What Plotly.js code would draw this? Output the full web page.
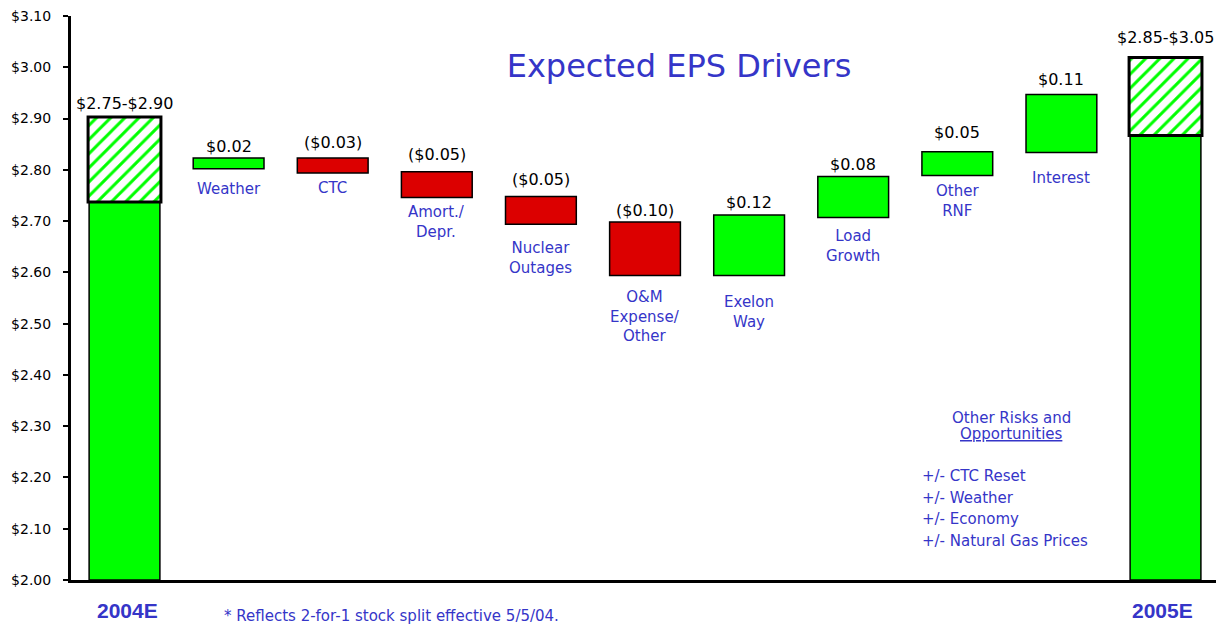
<!DOCTYPE html>
<html>
<head>
<meta charset="utf-8">
<script src="https://cdn.plot.ly/plotly-3.0.1.min.js"></script>
<style>html,body{margin:0;padding:0;background:#fff;}#chart{width:1216px;height:627px;}</style>
</head>
<body>
<div id="chart"></div>
<script>
// ---- data ----
const categories = ['2004E', 'Weather', 'CTC', 'Amort./<br>Depr.', 'Nuclear<br>Outages', 'O&M<br>Expense/<br>Other', 'Exelon<br>Way', 'Load<br>Growth', 'Other<br>RNF', 'Interest', '2005E'];
const barLow  = [2.00, 2.802, 2.794, 2.746, 2.694, 2.594, 2.594, 2.707, 2.789, 2.834, 2.00];
const barHigh = [2.737, 2.823, 2.823, 2.796, 2.748, 2.698, 2.712, 2.787, 2.835, 2.947, 2.867];
const direction = ['total', 'up', 'down', 'down', 'down', 'down', 'up', 'up', 'up', 'up', 'total'];
const valueLabels = ['$2.75-$2.90', '$0.02', '($0.03)', '($0.05)', '($0.05)', '($0.10)', '$0.12', '$0.08', '$0.05', '$0.11', '$2.85-$3.05'];
const rangeIdx  = [0, 10];
const rangeLow  = [2.737, 2.867];
const rangeHigh = [2.903, 3.019];
const riskTitle = ['Other Risks and', '<u>Opportunities</u>'];
const riskItems = ['+/- CTC Reset', '+/- Weather', '+/- Economy', '+/- Natural Gas Prices'];
const footnote = '* Reflects 2-for-1 stock split effective 5/5/04.';

// ---- styling / layout helpers ----
const GREEN = '#00ff00', RED = '#dc0000', BLUE = '#3535c8';
const FONT = 'DejaVu Sans, Verdana, sans-serif';
const valueGap = [14, 12, 16, 17, 17, 12, 12, 12, 19, 15, 20];      // px above bar top
const labelGap = [0, 20, 15, 14, 24, 22, 27, 18, 16, 26, 0];         // px below bar bottom (first line centre)

const idx = categories.map((_, i) => i);
const colors = direction.map(d => d === 'down' ? RED : GREEN);

const solid = {
  type: 'bar', x: idx, base: barLow, y: barHigh.map((h, i) => h - barLow[i]),
  width: 0.68, marker: {color: colors, line: {color: '#000', width: 1.5}},
  hoverinfo: 'skip', showlegend: false
};
const ranges = {
  type: 'bar', x: rangeIdx, base: rangeLow, y: rangeHigh.map((h, i) => h - rangeLow[i]),
  width: 0.70,
  marker: {color: GREEN, line: {color: '#000', width: 3},
    pattern: {shape: '/', fillmode: 'replace', fgcolor: GREEN, bgcolor: '#fff', size: 10, solidity: 0.3}},
  hoverinfo: 'skip', showlegend: false
};

const annotations = [];
// value labels above bars
idx.forEach(i => {
  const top = (i === 0) ? rangeHigh[0] : (i === 10 ? rangeHigh[1] : barHigh[i]);
  annotations.push({x: i, y: top, xref: 'x', yref: 'y', text: valueLabels[i], showarrow: false,
    yanchor: 'middle', yshift: valueGap[i], font: {family: FONT, size: 16, color: '#000'}});
});
// driver labels below bars
idx.forEach(i => {
  if (direction[i] === 'total') return;
  annotations.push({x: i, y: barLow[i], xref: 'x', yref: 'y', text: categories[i], showarrow: false,
    yanchor: 'top', yshift: -(labelGap[i] - 11), font: {family: FONT, size: 15, color: BLUE}});
});
// total labels under the axis
[0, 10].forEach(i => {
  annotations.push({x: i, y: 0, xref: 'x', yref: 'paper', text: '<b>' + categories[i] + '</b>', showarrow: false,
    yanchor: 'middle', yshift: -30, xshift: i === 0 ? 3 : -3,
    font: {family: 'Liberation Sans, Arial, sans-serif', size: 21, color: BLUE}});
});
// risks box
const px = v => (v - 71) / 1145, py = v => (580 - v) / 564;
riskTitle.forEach((t, k) => annotations.push({x: px(1011), y: py(418 + k * 16), xref: 'paper', yref: 'paper', text: t,
  showarrow: false, xanchor: 'center', yanchor: 'middle', font: {family: FONT, size: 15, color: BLUE}}));
riskItems.forEach((t, k) => annotations.push({x: px(920), y: py(476 + k * 21.5), xref: 'paper', yref: 'paper', text: t,
  showarrow: false, xanchor: 'left', yanchor: 'middle', font: {family: FONT, size: 15, color: BLUE}}));
// footnote
annotations.push({x: px(222), y: py(616), xref: 'paper', yref: 'paper', text: footnote, showarrow: false,
  xanchor: 'left', yanchor: 'middle', font: {family: FONT, size: 15, color: BLUE}});

const layout = {
  width: 1216, height: 627,
  margin: {l: 71, r: 0, t: 16, b: 47, pad: 0},
  paper_bgcolor: '#fff', plot_bgcolor: '#fff',
  barmode: 'overlay',
  title: {text: 'Expected EPS Drivers', x: 679 / 1216, xanchor: 'center', xref: 'container',
    y: 1 - 66 / 627, yanchor: 'middle', yref: 'container',
    font: {family: FONT, size: 32, color: BLUE}},
  xaxis: {range: [-0.514, 10.485], showgrid: false, zeroline: false, showticklabels: false, ticks: '',
    showline: true, linecolor: '#000', linewidth: 3, fixedrange: true},
  yaxis: {range: [2.0, 3.1], dtick: 0.1, tick0: 2.0, tickformat: '$.2f', showgrid: false, zeroline: false,
    showline: true, linecolor: '#000', linewidth: 3, ticks: 'outside', ticklen: 5, tickwidth: 2, tickcolor: '#000',
    ticklabelstandoff: 9, tickfont: {family: FONT, size: 14, color: '#000'}, fixedrange: true},
  annotations: annotations,
  showlegend: false
};

Plotly.newPlot('chart', [solid, ranges], layout, {displayModeBar: false, staticPlot: true});
</script>
</body>
</html>
